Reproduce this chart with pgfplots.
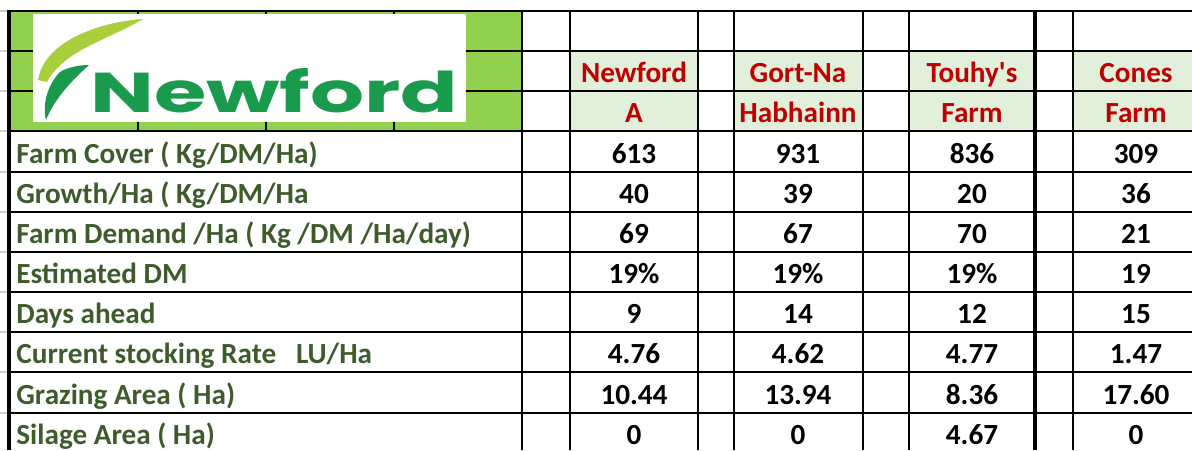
\documentclass[border=0pt]{standalone}
\usepackage{pgfplots}
\pgfplotsset{compat=1.18}
\usepackage{fontspec}
\setmainfont{Carlito}
\newfontfamily\logofont{Poppins}
\definecolor{xlgreen}{HTML}{92D050}
\definecolor{hdrfill}{HTML}{E2EFDA}
\definecolor{hdrred}{HTML}{C00000}
\definecolor{lblcol}{HTML}{3E5B2C}
\definecolor{logogreen}{HTML}{1A9A4C}
\definecolor{leaflight}{HTML}{A9CF3C}
\newcommand{\cellfont}{\bfseries\fontsize{14.6}{16}\selectfont}
\begin{document}
\begin{tikzpicture}
\begin{axis}[
  width=596pt, height=225pt, scale only axis,
  xmin=0, xmax=1192, ymin=0, ymax=450, y dir=reverse,
  hide axis, clip=true,
  textplot/.style={draw=none, mark=none, nodes near coords, point meta=explicit symbolic},
]
% backgrounds
\fill[xlgreen] (axis cs:9,11) rectangle (axis cs:522,131);
\pgfplotsinvokeforeach{570,734,909,1073}{
  \fill[hdrfill] (axis cs:#1,51) rectangle (axis cs:#1+128,131);
}
\fill[hdrfill] (axis cs:1073,51) rectangle (axis cs:1200,131);
% horizontal grid
\pgfplotsinvokeforeach{11,51,91,131,172,212,252,292,332,372,413}{
  \draw[line width=1.1pt] (axis cs:9,#1) -- (axis cs:1200,#1);
  \draw[black!20, line width=0.8pt] (axis cs:0,#1) -- (axis cs:7,#1);
}
\pgfplotsinvokeforeach{138,266,394}{
  \draw[line width=1pt] (axis cs:#1,11) -- (axis cs:#1,131);
}
% logo box
\fill[white] (axis cs:33,14) rectangle (axis cs:466,122);
% light leaf
\fill[leaflight] (axis cs:38,80) .. controls (axis cs:44,42) and (axis cs:98,22) .. (axis cs:143,19)
  .. controls (axis cs:108,40) and (axis cs:64,50) .. (axis cs:47,82) -- cycle;
% dark leaf
\fill[logogreen] (axis cs:60,72) .. controls (axis cs:68,67) and (axis cs:80,65) .. (axis cs:89,65)
  .. controls (axis cs:70,82) and (axis cs:54,100) .. (axis cs:46,120)
  .. controls (axis cs:42,104) and (axis cs:48,84) .. cycle;
\node[anchor=base west, inner sep=0pt, text=logogreen] at (axis cs:90,112)
  {\resizebox{184pt}{22pt}{\logofont\bfseries Newford}};
% vertical grid
\pgfplotsinvokeforeach{522,570,698,734,863,909,1073}{
  \draw[line width=1.1pt] (axis cs:#1,11) -- (axis cs:#1,450);
}
\draw[line width=1.8pt] (axis cs:9,10) -- (axis cs:9,450);
\draw[line width=1.8pt] (axis cs:1035,11) -- (axis cs:1035,450);

% row labels
\addplot[textplot, every node near coord/.append style={anchor=base west, inner sep=0pt, font=\cellfont, text=lblcol}]
table[col sep=comma, meta=t] {
x,y,t
16,163,Farm Cover ( Kg/DM/Ha)
16,203,Growth/Ha ( Kg/DM/Ha
16,243,Farm Demand /Ha ( Kg /DM /Ha/day)
16,283,Estimated DM
16,323,Days ahead
16,363,Current stocking Rate~~~LU/Ha
16,404,Grazing Area ( Ha)
16,444,Silage Area ( Ha)
};
% header
\addplot[textplot, every node near coord/.append style={anchor=base, inner sep=0pt, font=\cellfont, text=hdrred}]
table[col sep=comma, meta=t] {
x,y,t
634,82,Newford
634,122,A
798,82,Gort-Na
798,122,Habhainn
972,82,Touhy\textquotesingle s
972,122,Farm
1136,82,Cones
1136,122,Farm
};
% values: Newford A
\addplot[textplot, every node near coord/.append style={anchor=base, inner sep=0pt, font=\cellfont, text=black}]
table[col sep=comma, meta=t] {
x,y,t
634,163,613
634,203,40
634,243,69
634,283,19\%
634,323,9
634,363,4.76
634,404,10.44
634,444,0
};
% Gort-Na Habhainn
\addplot[textplot, every node near coord/.append style={anchor=base, inner sep=0pt, font=\cellfont, text=black}]
table[col sep=comma, meta=t] {
x,y,t
798,163,931
798,203,39
798,243,67
798,283,19\%
798,323,14
798,363,4.62
798,404,13.94
798,444,0
};
% Touhy's Farm
\addplot[textplot, every node near coord/.append style={anchor=base, inner sep=0pt, font=\cellfont, text=black}]
table[col sep=comma, meta=t] {
x,y,t
972,163,836
972,203,20
972,243,70
972,283,19\%
972,323,12
972,363,4.77
972,404,8.36
972,444,4.67
};
% Cones Farm
\addplot[textplot, every node near coord/.append style={anchor=base, inner sep=0pt, font=\cellfont, text=black}]
table[col sep=comma, meta=t] {
x,y,t
1136,163,309
1136,203,36
1136,243,21
1136,283,19
1136,323,15
1136,363,1.47
1136,404,17.60
1136,444,0
};
\end{axis}
\pgfresetboundingbox
\path (current axis.south west) rectangle (current axis.north east);
\end{tikzpicture}
\end{document}
